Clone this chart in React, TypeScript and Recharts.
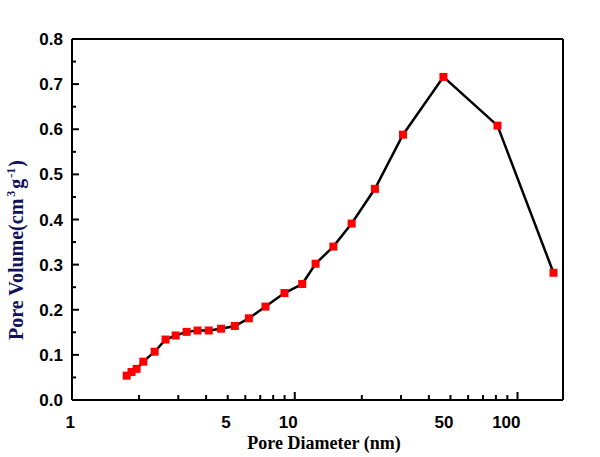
import { LineChart, Line, XAxis, YAxis, ReferenceLine } from 'recharts';

const diameters = [1.76, 1.85, 1.95, 2.09, 2.35, 2.63, 2.92, 3.27, 3.66, 4.11, 4.67, 5.38, 6.22, 7.39, 8.99, 10.8, 12.4, 14.9, 18.0, 22.9, 30.6, 46.5, 81.3, 145];
const volumes = [0.054, 0.062, 0.069, 0.085, 0.107, 0.134, 0.143, 0.151, 0.154, 0.154, 0.158, 0.164, 0.181, 0.207, 0.237, 0.257, 0.302, 0.340, 0.391, 0.468, 0.588, 0.716, 0.608, 0.282];

const xTicks = [1, 2, 3, 4, 5, 6, 7, 8, 9, 10, 20, 30, 40, 50, 60, 70, 80, 90, 100];
const xLabels = [1, 5, 10, 50, 100];
const yTicks = [0, 0.05, 0.1, 0.15, 0.2, 0.25, 0.3, 0.35, 0.4, 0.45, 0.5, 0.55, 0.6, 0.65, 0.7, 0.75, 0.8];
const yLabels = ['0.0', '0.1', '0.2', '0.3', '0.4', '0.5', '0.6', '0.7', '0.8'];

const data = diameters.map((d, i) => ({ d, v: volumes[i] }));

const tickFont = { fontFamily: 'Arial, "Liberation Sans", sans-serif', fontWeight: 'bold', fontSize: 17, fill: '#000' };
const titleFont = { fontFamily: '"Times New Roman", "Liberation Serif", serif', fontWeight: 'bold', fontSize: 18 };

function XTick(props: any) {
  const { x, y, payload } = props;
  const v = payload.value;
  const len = v === 1 || v === 10 || v === 100 ? 8 : 5;
  return (
    <g>
      <line x1={x} x2={x} y1={y} y2={y - len} stroke="#000" strokeWidth={2} />
      {xLabels.includes(v) && (
        <text x={x + 3} y={y + 28} textAnchor="end" {...tickFont}>{v}</text>
      )}
    </g>
  );
}

function YTick(props: any) {
  const { x, y, payload } = props;
  const v = payload.value;
  const label = yLabels.find((l) => Math.abs(parseFloat(l) - v) < 1e-6);
  return (
    <g>
      <line x1={x} x2={x + (label ? 7 : 4)} y1={y} y2={y} stroke="#000" strokeWidth={2} />
      {label && (
        <text x={x - 9} y={y + 6} textAnchor="end" {...tickFont}>{label}</text>
      )}
    </g>
  );
}

function YTitle() {
  return (
    <text transform="rotate(-90, 23, 250)" x={23} y={250} textAnchor="middle" fill="#12125c" {...titleFont} fontSize={20}>
      Pore Volume(cm
      <tspan dy={-8} dx={2} fontSize={12}>3</tspan>
      <tspan dy={8} dx={2}>g</tspan>
      <tspan dy={-8} dx={1} fontSize={12}>-1</tspan>
      <tspan dy={8} dx={1}>)</tspan>
    </text>
  );
}

function XTitle() {
  return (
    <text x={324} y={449} textAnchor="middle" fill="#000" {...titleFont}>Pore Diameter (nm)</text>
  );
}

function Marker(props: any) {
  const { cx, cy, index } = props;
  return <rect key={index} x={cx - 4} y={cy - 4} width={8} height={8} fill="#ff0000" />;
}

export default function App() {
  return (
    <div style={{ position: 'absolute', left: 0, top: 0, background: '#fff' }}>
      <LineChart width={600} height={457} data={data} margin={{ top: 39, right: 37, left: 0, bottom: 0 }}>
        <XAxis
          dataKey="d"
          type="number"
          scale="log"
          domain={[1, 160]}
          allowDataOverflow
          ticks={xTicks}
          interval={0}
          height={57}
          tickSize={0}
          tickMargin={0}
          tickLine={false}
          axisLine={{ stroke: '#000', strokeWidth: 2 }}
          tick={<XTick />}
          label={<XTitle />}
        />
        <YAxis
          type="number"
          domain={[0, 0.8]}
          ticks={yTicks}
          interval={0}
          width={72}
          tickSize={0}
          tickMargin={0}
          tickLine={false}
          axisLine={{ stroke: '#000', strokeWidth: 2 }}
          tick={<YTick />}
          label={<YTitle />}
        />
        <ReferenceLine y={0.8} stroke="#000" strokeWidth={2} ifOverflow="visible" />
        <ReferenceLine x={160} stroke="#000" strokeWidth={2} ifOverflow="visible" />
        <Line
          dataKey="v"
          type="linear"
          stroke="#000"
          strokeWidth={2.5}
          dot={<Marker />}
          activeDot={false}
          isAnimationActive={false}
        />
      </LineChart>
    </div>
  );
}
